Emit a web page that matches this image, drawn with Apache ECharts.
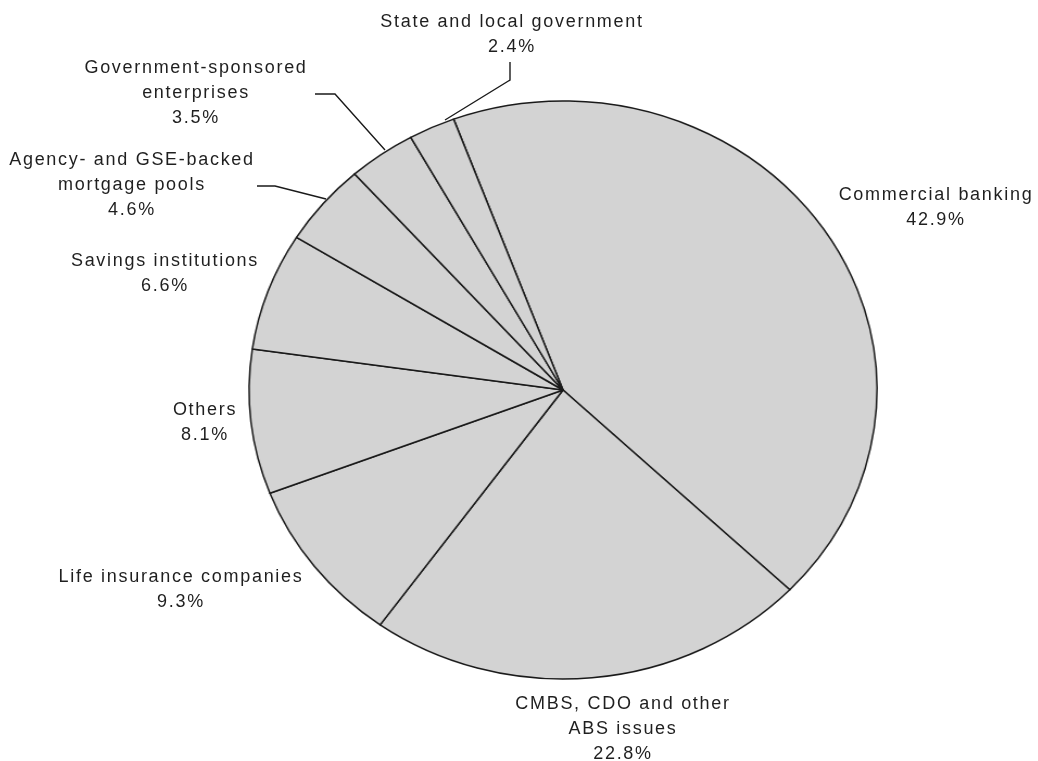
<!DOCTYPE html>
<html>
<head>
<meta charset="utf-8">
<title>Holders of commercial mortgage debt</title>
<script src="https://cdn.jsdelivr.net/npm/echarts@6/dist/echarts.min.js"></script>
<style>
  html, body { margin: 0; padding: 0; background: #ffffff; }
  #stage { position: relative; width: 1038px; height: 761px; overflow: hidden; }
  #pie, #labels { position: absolute; left: 0; top: 0; width: 1038px; height: 761px; }
  /* the pie is drawn as an ellipse, a little wider than tall */
  #pie { transform: scaleX(1.086); transform-origin: 563px 390px; }
  #labels text { letter-spacing: 1.7px; }
</style>
</head>
<body>
<div id="stage">
  <div id="pie"></div>
  <div id="labels"></div>
</div>
<script>
// Share of commercial mortgage debt by holder (percent)
const categories = [
  'Commercial banking',
  'CMBS, CDO and other\nABS issues',
  'Life insurance companies',
  'Others',
  'Savings institutions',
  'Agency- and GSE-backed\nmortgage pools',
  'Government-sponsored\nenterprises',
  'State and local government'
];
const shares = [42.9, 22.8, 9.3, 8.1, 6.6, 4.6, 3.5, 2.4];

// label placement (block centre) and leader lines, by slice index
const labelSpots = [
  { x: 936, y: 206 },
  { x: 623, y: 728 },
  { x: 181, y: 588 },
  { x: 205, y: 421 },
  { x: 165, y: 272 },
  { x: 132, y: 184, line: [[326, 199], [275, 186], [257, 186]] },
  { x: 196, y: 92,  line: [[385, 150], [335, 94], [315, 94]] },
  { x: 512, y: 33,  line: [[445, 120], [510, 80], [510, 62]] }
];

const CENTER = [563, 390];
const RADIUS = 289;
const START = 110.4;

const slices = categories.map((name, i) => ({ name: name, value: shares[i] }));

// Layer 1: the filled slices
const pieChart = echarts.init(document.getElementById('pie'), null, { renderer: 'canvas' });
pieChart.setOption({
  animation: false,
  series: [{
    type: 'pie',
    center: CENTER,
    radius: RADIUS,
    startAngle: START,
    clockwise: true,
    silent: true,
    label: { show: false },
    labelLine: { show: false },
    itemStyle: { color: '#d3d3d3', borderColor: '#1a1a1a', borderWidth: 1.5 },
    emphasis: { disabled: true },
    data: slices
  }]
});

// Layer 2: the category labels with their values
const labelChart = echarts.init(document.getElementById('labels'), null, { renderer: 'svg' });
labelChart.setOption({
  animation: false,
  series: [{
    type: 'pie',
    center: CENTER,
    radius: RADIUS,
    startAngle: START,
    clockwise: true,
    silent: true,
    itemStyle: { color: 'rgba(0,0,0,0)', borderWidth: 0 },
    emphasis: { disabled: true },
    label: {
      show: true,
      position: 'outside',
      formatter: p => p.name + '\n' + p.value + '%',
      fontFamily: '"Liberation Sans", Arial, sans-serif',
      fontSize: 18,
      lineHeight: 25,
      color: '#1f1f1f',
      align: 'center'
    },
    labelLine: {
      show: true,
      lineStyle: { color: '#1a1a1a', width: 1.4 }
    },
    labelLayout: params => {
      const spot = labelSpots[params.dataIndex];
      const out = { x: spot.x, y: spot.y, align: 'center', verticalAlign: 'middle' };
      if (spot.line) out.labelLinePoints = spot.line;
      return out;
    },
    data: slices.map((d, i) => ({
      name: d.name,
      value: d.value,
      labelLine: { show: !!labelSpots[i].line }
    }))
  }]
});
</script>
</body>
</html>
